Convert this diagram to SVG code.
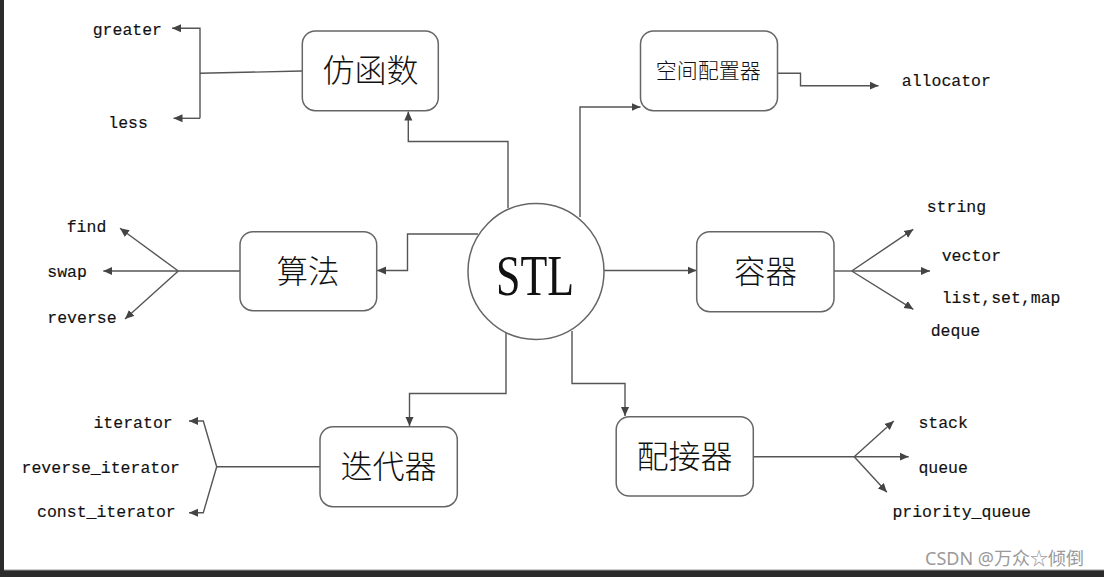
<svg xmlns="http://www.w3.org/2000/svg" width="1104" height="577" viewBox="0 0 1104 577">
<style>
.box{fill:#fff;stroke:#666;stroke-width:1.5}
.cn{font-family:"Noto Sans CJK SC",sans-serif;font-weight:300;fill:#111;text-anchor:middle}
.mono{font-family:"Liberation Mono",monospace;font-size:16.5px;fill:#111;stroke:#111;stroke-width:0.15}
.ln{fill:none;stroke:#555;stroke-width:1.4}
</style>
<defs>
<marker id="ah" viewBox="0 0 10 10" refX="10" refY="5" markerWidth="9" markerHeight="9" markerUnits="userSpaceOnUse" orient="auto">
<path d="M0,0.5 L10,5 L0,9.5 Z" fill="#444"/>
</marker>
</defs>
<rect x="0" y="0" width="1104" height="577" fill="#fff"/>
<rect x="0" y="0" width="4" height="577" fill="#2b2b2b"/>
<rect x="0" y="570" width="1104" height="7" fill="#2b2b2b"/>
<line x1="4" y1="570" x2="1104" y2="570" stroke="#9a9a9a" stroke-width="1"/>

<g id="connectors">
<!-- STL to 仿函数 -->
<path class="ln" d="M508,208 V141.5 H408.3 V111.5" marker-end="url(#ah)"/>
<!-- STL to 空间配置器 -->
<path class="ln" d="M580,217 V107 H640.5" marker-end="url(#ah)"/>
<!-- STL to 算法 -->
<path class="ln" d="M478,234 H407.5 V270.5 H377" marker-end="url(#ah)"/>
<!-- STL to 容器 -->
<path class="ln" d="M604,270.5 H696.5" marker-end="url(#ah)"/>
<!-- STL to 迭代器 -->
<path class="ln" d="M506,331 V393.5 H409.5 V426" marker-end="url(#ah)"/>
<!-- STL to 配接器 -->
<path class="ln" d="M572,331 V383.5 H625 V416" marker-end="url(#ah)"/>
<!-- 仿函数 children -->
<path class="ln" d="M302,71 L200,73.3"/>
<path class="ln" d="M200,118.3 V28.3 H172" marker-end="url(#ah)"/>
<path class="ln" d="M200,118.3 H173.5" marker-end="url(#ah)"/>
<!-- allocator -->
<path class="ln" d="M759.5,73.3 H800.5 V85.7 H878.5" marker-end="url(#ah)"/>
<!-- 算法 children -->
<path class="ln" d="M240,271 H178.3"/>
<path class="ln" d="M178.3,271 L120,228.3" marker-end="url(#ah)"/>
<path class="ln" d="M178.3,271 H103.3" marker-end="url(#ah)"/>
<path class="ln" d="M178.3,271 L125,319" marker-end="url(#ah)"/>
<!-- 容器 children -->
<path class="ln" d="M834,271 H851.7"/>
<path class="ln" d="M851.7,271 L913.3,229.3" marker-end="url(#ah)"/>
<path class="ln" d="M851.7,271 H930" marker-end="url(#ah)"/>
<path class="ln" d="M851.7,271 L913.3,309.3" marker-end="url(#ah)"/>
<!-- 迭代器 children -->
<path class="ln" d="M320,466.7 H216.7"/>
<path class="ln" d="M216.7,466.7 L203.3,421 H189" marker-end="url(#ah)"/>
<path class="ln" d="M216.7,466.7 L203.3,512.7 H189" marker-end="url(#ah)"/>
<!-- 配接器 children -->
<path class="ln" d="M753.3,456.7 H854.2"/>
<path class="ln" d="M854.2,456.7 L893.8,421" marker-end="url(#ah)"/>
<path class="ln" d="M854.2,456.7 H908.7" marker-end="url(#ah)"/>
<path class="ln" d="M854.2,456.7 L886.9,492.3" marker-end="url(#ah)"/>
</g>

<g id="stl">
<circle cx="536" cy="271.5" r="68" fill="#fff" stroke="#666" stroke-width="1.5"/>
<text x="535" y="295" font-family="Liberation Serif, serif" font-size="57" fill="#111" text-anchor="middle" textLength="78" lengthAdjust="spacingAndGlyphs">STL</text>
</g>

<g id="functor">
<rect class="box" x="302.3" y="31" width="136" height="79.7" rx="13"/>
<text class="cn" x="370.5" y="82" font-size="32">仿函数</text>
</g>
<g id="allocator-box">
<rect class="box" x="640.5" y="31" width="137" height="79.7" rx="13"/>
<text class="cn" x="708.3" y="77.5" font-size="21">空间配置器</text>
</g>
<g id="algorithm">
<rect class="box" x="240" y="231.7" width="136.7" height="79" rx="13"/>
<text class="cn" x="308" y="282.5" font-size="31.5">算法</text>
</g>
<g id="container">
<rect class="box" x="696.7" y="231.7" width="137.3" height="80" rx="13"/>
<text class="cn" x="765.5" y="282.5" font-size="31.5">容器</text>
</g>
<g id="iterator">
<rect class="box" x="320" y="426.7" width="137.3" height="80" rx="13"/>
<text class="cn" x="388.5" y="478" font-size="32">迭代器</text>
</g>
<g id="adapter">
<rect class="box" x="616.2" y="416.7" width="137.1" height="79.3" rx="13"/>
<text class="cn" x="684.5" y="468" font-size="32">配接器</text>
</g>

<g id="labels">
<text class="mono" x="92.7" y="35">greater</text>
<text class="mono" x="108.3" y="128.3">less</text>
<text class="mono" x="901.8" y="86">allocator</text>
<text class="mono" x="66.7" y="231.7">find</text>
<text class="mono" x="47.3" y="277">swap</text>
<text class="mono" x="47.3" y="322.7">reverse</text>
<text class="mono" x="926.7" y="212.3">string</text>
<text class="mono" x="941.7" y="261">vector</text>
<text class="mono" x="941.7" y="303.3">list,set,map</text>
<text class="mono" x="930.7" y="335.7">deque</text>
<text class="mono" x="172.7" y="428.3" text-anchor="end">iterator</text>
<text class="mono" x="180" y="472.7" text-anchor="end">reverse_iterator</text>
<text class="mono" x="175.7" y="516.7" text-anchor="end">const_iterator</text>
<text class="mono" x="918.4" y="427.7">stack</text>
<text class="mono" x="918.4" y="472.7">queue</text>
<text class="mono" x="892.4" y="516.7">priority_queue</text>
</g>

<g id="watermark">
<text x="925" y="565" font-family="Noto Sans, Noto Sans CJK SC, sans-serif" font-size="18" fill="#9a9a9a">CSDN @万众☆倾倒</text>
</g>
</svg>
